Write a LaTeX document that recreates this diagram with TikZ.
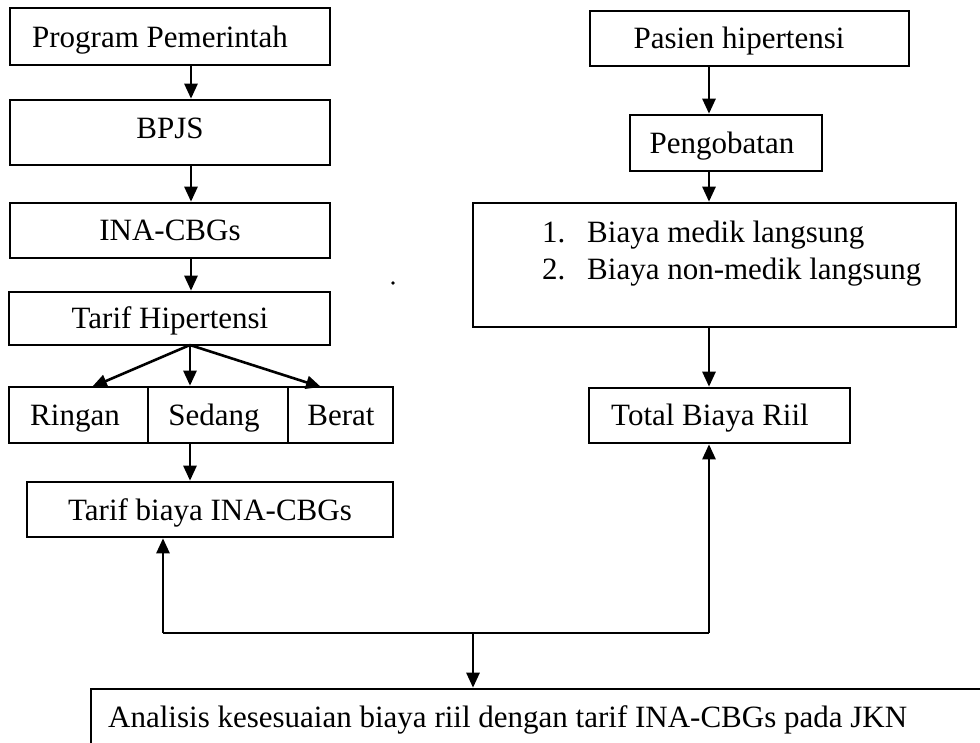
\documentclass[tikz,border=0pt]{standalone}
\usepackage{fontspec}
\setmainfont{Liberation Serif}
\usetikzlibrary{arrows.meta}
\begin{document}
\begin{tikzpicture}[x=1pt,y=-1pt,
  box/.style={draw=black,line width=2.6pt,rectangle,inner sep=0pt},
  lbl/.style={anchor=base,inner sep=0pt,font=\fontsize{31}{37}\selectfont},
  lblw/.style={anchor=base west,inner sep=0pt,font=\fontsize{31}{37}\selectfont},
  con/.style={line width=2.6pt},
  arr/.style={line width=2.6pt,-{Triangle[length=15pt,width=13pt]}}]
\clip (0,0) rectangle (980,742);
\fill[white] (0,0) rectangle (980,742);
% boxes
\node[box,minimum width=320pt,minimum height=57pt] (pp) at (170,36.5) {};
\node[box,minimum width=320pt,minimum height=65pt] (bpjs) at (170,132.5) {};
\node[box,minimum width=320pt,minimum height=55pt] (ina) at (170,230.5) {};
\node[box,minimum width=321pt,minimum height=53pt] (th) at (169.5,318.5) {};
\node[box,minimum width=139pt,minimum height=56pt] (rin) at (78.5,415) {};
\node[box,minimum width=140pt,minimum height=56pt] (sed) at (218,415) {};
\node[box,minimum width=105pt,minimum height=56pt] (ber) at (340.5,415) {};
\node[box,minimum width=366pt,minimum height=55pt] (tb) at (210,509.5) {};
\node[box,minimum width=319pt,minimum height=55pt] (ph) at (749.5,38.5) {};
\node[box,minimum width=192pt,minimum height=56pt] (peng) at (726,143) {};
\node[box,minimum width=483pt,minimum height=124pt] (bm) at (714.5,265) {};
\node[box,minimum width=261pt,minimum height=55pt] (tot) at (719.5,415.5) {};
\node[box,minimum width=920pt,minimum height=100pt] (ana) at (551,739) {};
% texts
\node[lbl] (tpp) at (160,47) {Program Pemerintah};
\node[lbl] (tbpjs) at (170,138) {BPJS};
\node[lbl] (tina) at (170,240) {INA-CBGs};
\node[lbl] (tth) at (170,328) {Tarif Hipertensi};
\node[lbl] (trin) at (75,425) {Ringan};
\node[lbl] (tsed) at (214,425) {Sedang};
\node[lbl] (tber) at (341,425) {Berat};
\node[lbl] (ttb) at (210,520) {Tarif biaya INA-CBGs};
\node[lbl] (tph) at (739,48) {Pasien hipertensi};
\node[lbl] (tpeng) at (722,153) {Pengobatan};
\node[lblw] (n1) at (542,242) {1.};
\node[lblw] (t1) at (587,242) {Biaya medik langsung};
\node[lblw] (n2) at (542,279) {2.};
\node[lblw] (t2) at (587,279) {Biaya non-medik langsung};
\node[lbl] (ttot) at (710,425) {Total Biaya Riil};
\node[lblw] (tana) at (108,727) {Analisis kesesuaian biaya riil dengan tarif INA-CBGs pada JKN};
% stray dot
\fill (393,283) circle (1.8pt);
% connectors left column
\coordinate (c1) at (191,0);
\draw[arr] (c1 |- pp.south) -- (c1 |- bpjs.north);
\draw[arr] (c1 |- bpjs.south) -- (c1 |- ina.north);
\draw[arr] (c1 |- ina.south) -- (c1 |- th.north);
\coordinate (sp) at (190,345);
\coordinate (tl) at (92,387);
\coordinate (tr) at (321,387);
\draw[arr] (sp) -- (tl);
\draw[arr] (sp) -- (sp |- sed.north);
\draw[arr] (sp) -- (tr);
\draw[arr] (sp |- sed.south) -- (sp |- tb.north);
% right column
\coordinate (c2) at (709,0);
\draw[arr] (c2 |- ph.south) -- (c2 |- peng.north);
\draw[arr] (c2 |- peng.south) -- (c2 |- bm.north);
\draw[arr] (c2 |- bm.south) -- (c2 |- tot.north);
% bottom joins
\coordinate (jl) at (163,633);
\coordinate (jr) at (709,633);
\coordinate (jm) at (473,633);
\draw[con] (jl) -- (jr);
\draw[arr] (jl) -- (jl |- tb.south);
\draw[arr] (jr) -- (jr |- tot.south);
\draw[arr] (jm) -- (jm |- ana.north);
\end{tikzpicture}
\end{document}
